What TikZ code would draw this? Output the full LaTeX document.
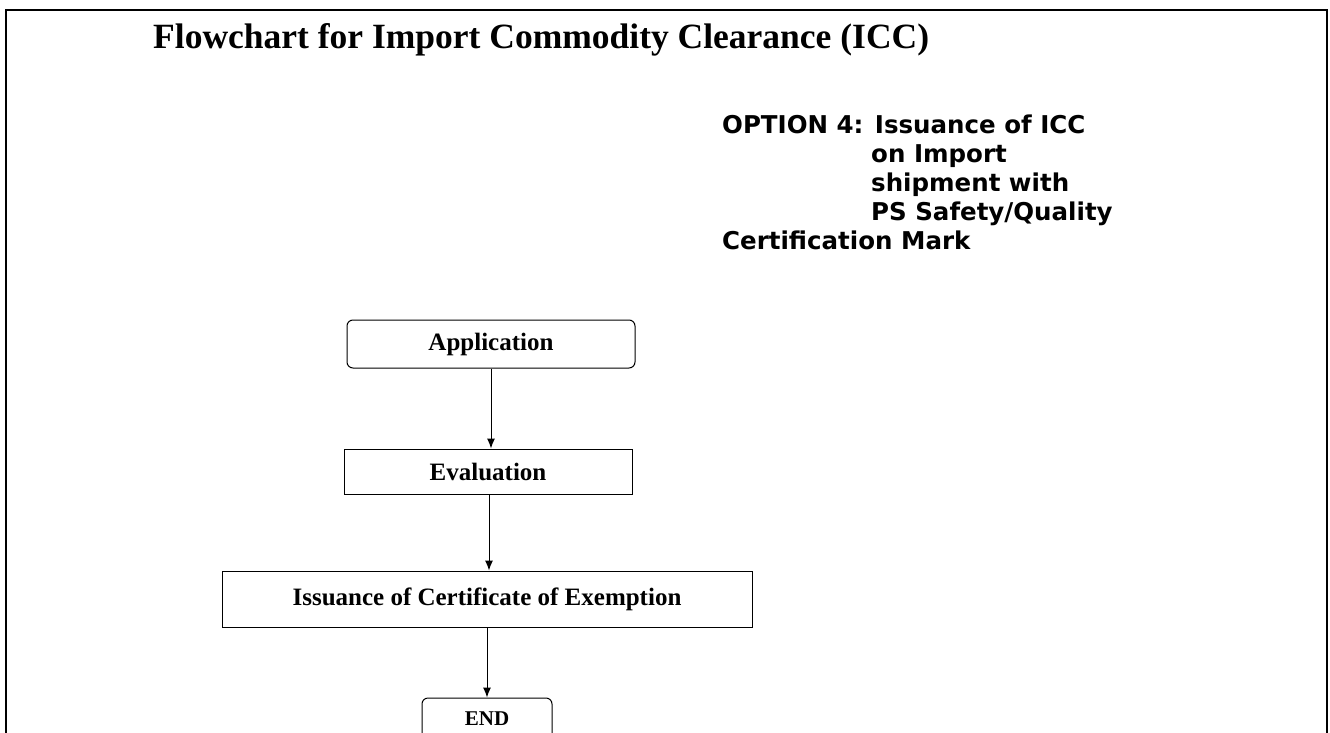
\documentclass[tikz,border=0pt]{standalone}
\usepackage{fontspec}
\usetikzlibrary{arrows.meta}
\newfontfamily\serifbold{Liberation Serif}
\newfontfamily\optfont{DejaVu Sans}
\begin{document}
\begin{tikzpicture}[x=1pt,y=-1pt,
  frame/.style={line width=1.3pt},
  box/.style={draw, line width=1pt, inner sep=0pt, font=\serifbold\bfseries\fontsize{25}{29}\selectfont},
  rbox/.style={box, rounded corners=6pt},
  arr/.style={line width=1pt, -{Latex[length=10pt,width=8pt]}},
  opt/.style={anchor=base west, inner sep=0pt, font=\optfont\bfseries\fontsize{24.5}{28}\selectfont}
]
\useasboundingbox (0,0) rectangle (1330,733);
\draw[frame] (6,733) -- (6,10) -- (1327,10) -- (1327,733);

\node[anchor=base west, inner sep=0pt, font=\serifbold\bfseries\fontsize{35.5}{42}\selectfont] (title) at (153,49) {Flowchart for Import Commodity Clearance (ICC)};

\node[opt] (o1) at (722,133) {OPTION 4: Issuance of ICC};
\node[opt] (o2) at (871,162) {on Import};
\node[opt] (o3) at (871,191) {shipment with};
\node[opt] (o4) at (871,220) {PS Safety/Quality};
\node[opt] (o5) at (722,249) {Certification Mark};

\node[rbox, minimum width=288pt, minimum height=48pt] (app) at (491,344) {Application};
\node[box, minimum width=288pt, minimum height=45pt] (eval) at (488,471.5) {Evaluation};
\node[box, minimum width=530pt, minimum height=56pt] (iss) at (487,599) {Issuance of Certificate of Exemption};
\node[rbox, minimum width=130pt, minimum height=42pt, font=\serifbold\bfseries\fontsize{21}{25}\selectfont] (end) at (487,719) {END};

\coordinate (c1) at (491,0);
\coordinate (c2) at (489,0);
\coordinate (c3) at (487,0);
\draw[arr] (app.south -| c1) -- (eval.north -| c1);
\draw[arr] (eval.south -| c2) -- (iss.north -| c2);
\draw[arr] (iss.south -| c3) -- (end.north -| c3);
\end{tikzpicture}
\end{document}
